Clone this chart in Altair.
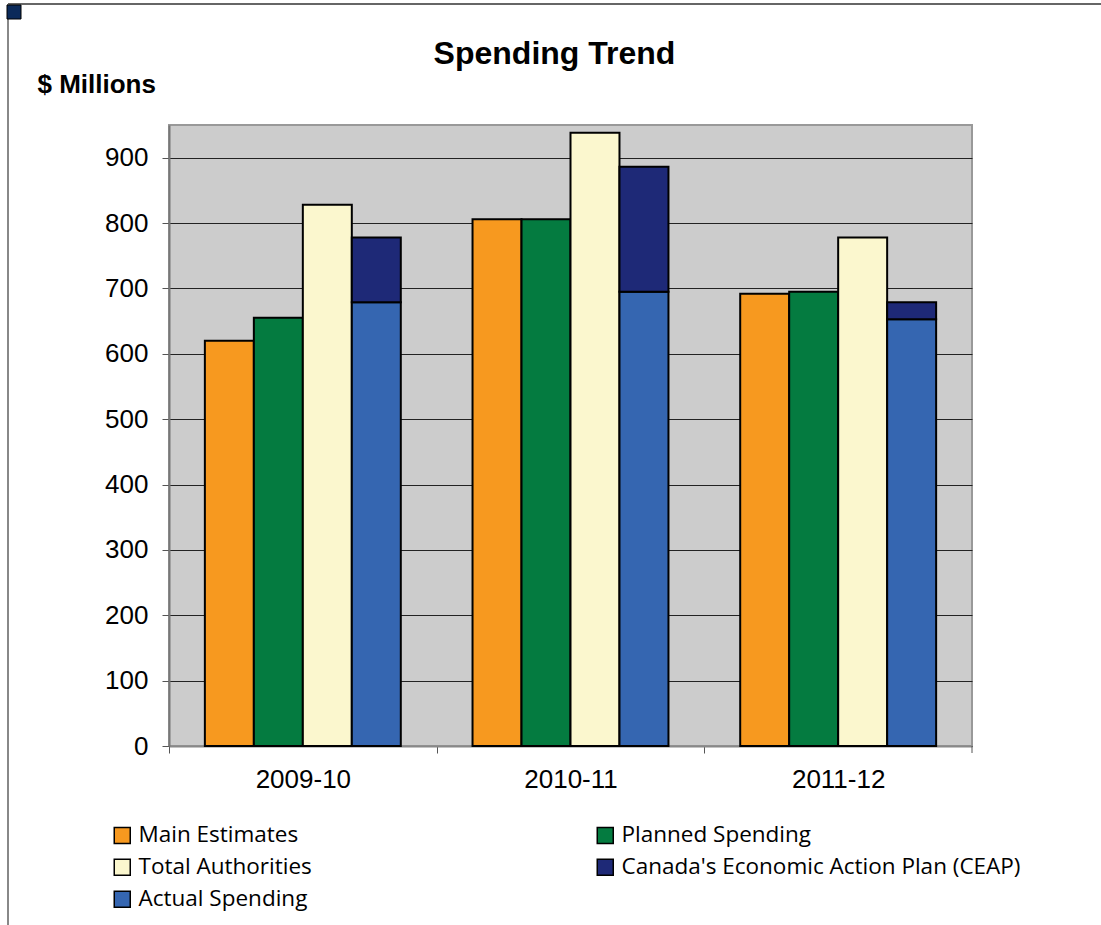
import altair as alt
import pandas as pd

years = ["2009-10", "2010-11", "2011-12"]
main_estimates = [620, 806, 692]
planned_spending = [655, 806, 695]
total_authorities = [828, 938, 778]
actual_spending = [679, 695, 653]
ceap = [99, 191, 26]

series = ["Main Estimates", "Planned Spending", "Total Authorities",
          "Canada's Economic Action Plan (CEAP)", "Actual Spending"]
colors = ["#F7991F", "#047B40", "#FBF7CE", "#1E2977", "#3566B1"]
slots = ["Main", "Planned", "Total", "Actual"]
y_ticks = [0, 100, 200, 300, 400, 500, 600, 700, 800, 900]

rows = []
for i, yr in enumerate(years):
    rows.append(dict(year=yr, slot="Main", series=series[0], y0=0, y1=main_estimates[i]))
    rows.append(dict(year=yr, slot="Planned", series=series[1], y0=0, y1=planned_spending[i]))
    rows.append(dict(year=yr, slot="Total", series=series[2], y0=0, y1=total_authorities[i]))
    rows.append(dict(year=yr, slot="Actual", series=series[4], y0=0, y1=actual_spending[i]))
    rows.append(dict(year=yr, slot="Actual", series=series[3], y0=actual_spending[i],
                     y1=actual_spending[i] + ceap[i]))
df = pd.DataFrame(rows)

bars = alt.Chart(df).mark_bar(stroke="black", strokeWidth=2).encode(
    x=alt.X("year:N", sort=years,
            scale=alt.Scale(paddingInner=0.268, paddingOuter=0.134),
            axis=alt.Axis(title=None, labelAngle=0, tickOffset=-134, labelOffset=134,
                          labelFont="Liberation Sans", labelFontSize=26, labelColor="black",
                          labelPadding=13, tickSize=7, tickColor="#555555",
                          domainColor="#888888", domainWidth=2)),
    xOffset=alt.XOffset("slot:N", sort=slots,
                        scale=alt.Scale(domain=slots, paddingInner=0, paddingOuter=0)),
    y=alt.Y("y1:Q", scale=alt.Scale(domain=[0, 950], nice=False),
            axis=alt.Axis(values=y_ticks, title="$ Millions", titleAngle=0,
                          titleX=-132, titleY=-33, titleAlign="left",
                          titleBaseline="alphabetic",
                          titleFont="Liberation Sans", titleFontSize=26,
                          titleFontWeight="bold", titleColor="black",
                          labelFont="Liberation Sans", labelFontSize=26, labelColor="black",
                          labelPadding=14, tickSize=7, tickColor="#555555",
                          domainColor="#777777", domainWidth=2,
                          grid=True, gridColor="#222222", gridWidth=1)),
    y2="y0:Q",
    color=alt.Color("series:N",
                    scale=alt.Scale(domain=series, range=colors),
                    legend=alt.Legend(title=None, orient="none", legendX=-58, legendY=699,
                                      direction="horizontal",
                                      columns=2, columnPadding=282, rowPadding=9,
                                      symbolType="square", symbolSize=256,
                                      symbolStrokeColor="black", symbolStrokeWidth=1.5,
                                      labelFont="Open Sans", labelFontSize=22.5, labelColor="black",
                                      labelLimit=600, labelOffset=5)),
)

one = pd.DataFrame({"a": [0]})
top_line = alt.Chart(one).mark_rule(color="#333333", strokeWidth=1.5).encode(
    x=alt.value(-161), x2=alt.value(940), y=alt.value(-121))
left_line = alt.Chart(one).mark_rule(color="#888888", strokeWidth=2).encode(
    x=alt.value(-161), y=alt.value(-121), y2=alt.value(800))
last_tick = alt.Chart(one).mark_rule(color="#555555", strokeWidth=1).encode(
    x=alt.value(803), y=alt.value(621), y2=alt.value(628))
corner = alt.Chart(one).mark_square(color="#0B2A5A", size=196, opacity=1,
                                    stroke="black", strokeWidth=1).encode(
    x=alt.value(-155), y=alt.value(-113))

chart = alt.layer(bars, top_line, left_line, last_tick, corner).properties(
    width=803, height=621,
    autosize=alt.AutoSizeParams(type="none"),
    padding={"left": 169, "top": 125, "right": 129, "bottom": 179},
    title=alt.TitleParams("Spending Trend", font="Liberation Sans", fontSize=32,
                          fontWeight="bold", color="black", anchor="middle",
                          dx=-16, offset=-93, baseline="alphabetic"),
).configure_view(fill="#CCCCCC", stroke="#999999", strokeWidth=2)

chart.save("out.html", embed_options={"renderer": "svg", "actions": False})
